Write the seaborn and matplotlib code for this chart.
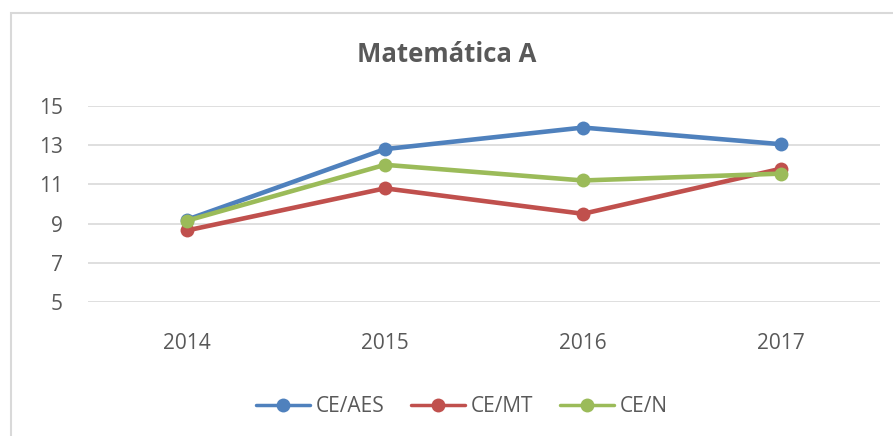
import matplotlib.pyplot as plt
import seaborn as sns
import pandas as pd
from matplotlib.patches import Rectangle

years = ["2014", "2015", "2016", "2017"]
ce_aes = [9.2, 12.8, 13.9, 13.05]
ce_mt = [8.65, 10.8, 9.5, 11.8]
ce_n = [9.15, 12.0, 11.2, 11.55]
series_names = ["CE/AES", "CE/MT", "CE/N"]
colors = ["#4F81BD", "#C0504D", "#9BBB59"]

df = pd.DataFrame({"ano": years * 3,
                   "nota": ce_aes + ce_mt + ce_n,
                   "serie": [s for s in series_names for _ in years]})

sns.set_style("white")
plt.rcParams['font.family'] = ['Open Sans', 'DejaVu Sans']
txt = "#595959"

fig = plt.figure(figsize=(8.93, 4.36), dpi=100)
ax = fig.add_axes([88 / 893, 1 - 302 / 436, (880 - 88) / 893, 196 / 436])

sns.lineplot(data=df, x="ano", y="nota", hue="serie", palette=colors,
             marker="o", markersize=10, markeredgewidth=0, linewidth=3.3,
             sort=False, ax=ax)

ax.set_xlim(-0.5, 3.5)
ax.set_ylim(5, 15)
ax.set_yticks([5, 7, 9, 11, 13, 15])
ax.yaxis.grid(True, color="#D9D9D9", linewidth=1.2)
ax.set_axisbelow(True)
for s in ax.spines.values():
    s.set_visible(False)
ax.tick_params(axis="both", length=0, labelsize=15, colors=txt)
ax.tick_params(axis="x", pad=22)
ax.tick_params(axis="y", pad=18)
ax.set_xlabel("")
ax.set_ylabel("")

fig.text(0.5, 1 - 55 / 436, "Matemática A", ha="center", va="center",
         fontsize=18.5, fontweight="bold", color=txt)

h, l = ax.get_legend_handles_labels()
for hd in h:
    hd.set_linewidth(2.5)
ax.legend(h, l, loc="center", bbox_to_anchor=(0.472, -0.535), ncol=3,
          frameon=False, fontsize=15, labelcolor=txt, handlelength=2.6,
          handletextpad=0.25, columnspacing=1.3)

# chart area border
fig.patches.append(Rectangle((11 / 893, -0.1), 1.2, 1 - 13 / 436 + 0.1,
                             transform=fig.transFigure, fill=False,
                             edgecolor="#D9D9D9", linewidth=1.5))

fig.savefig("out.png", dpi=100)
